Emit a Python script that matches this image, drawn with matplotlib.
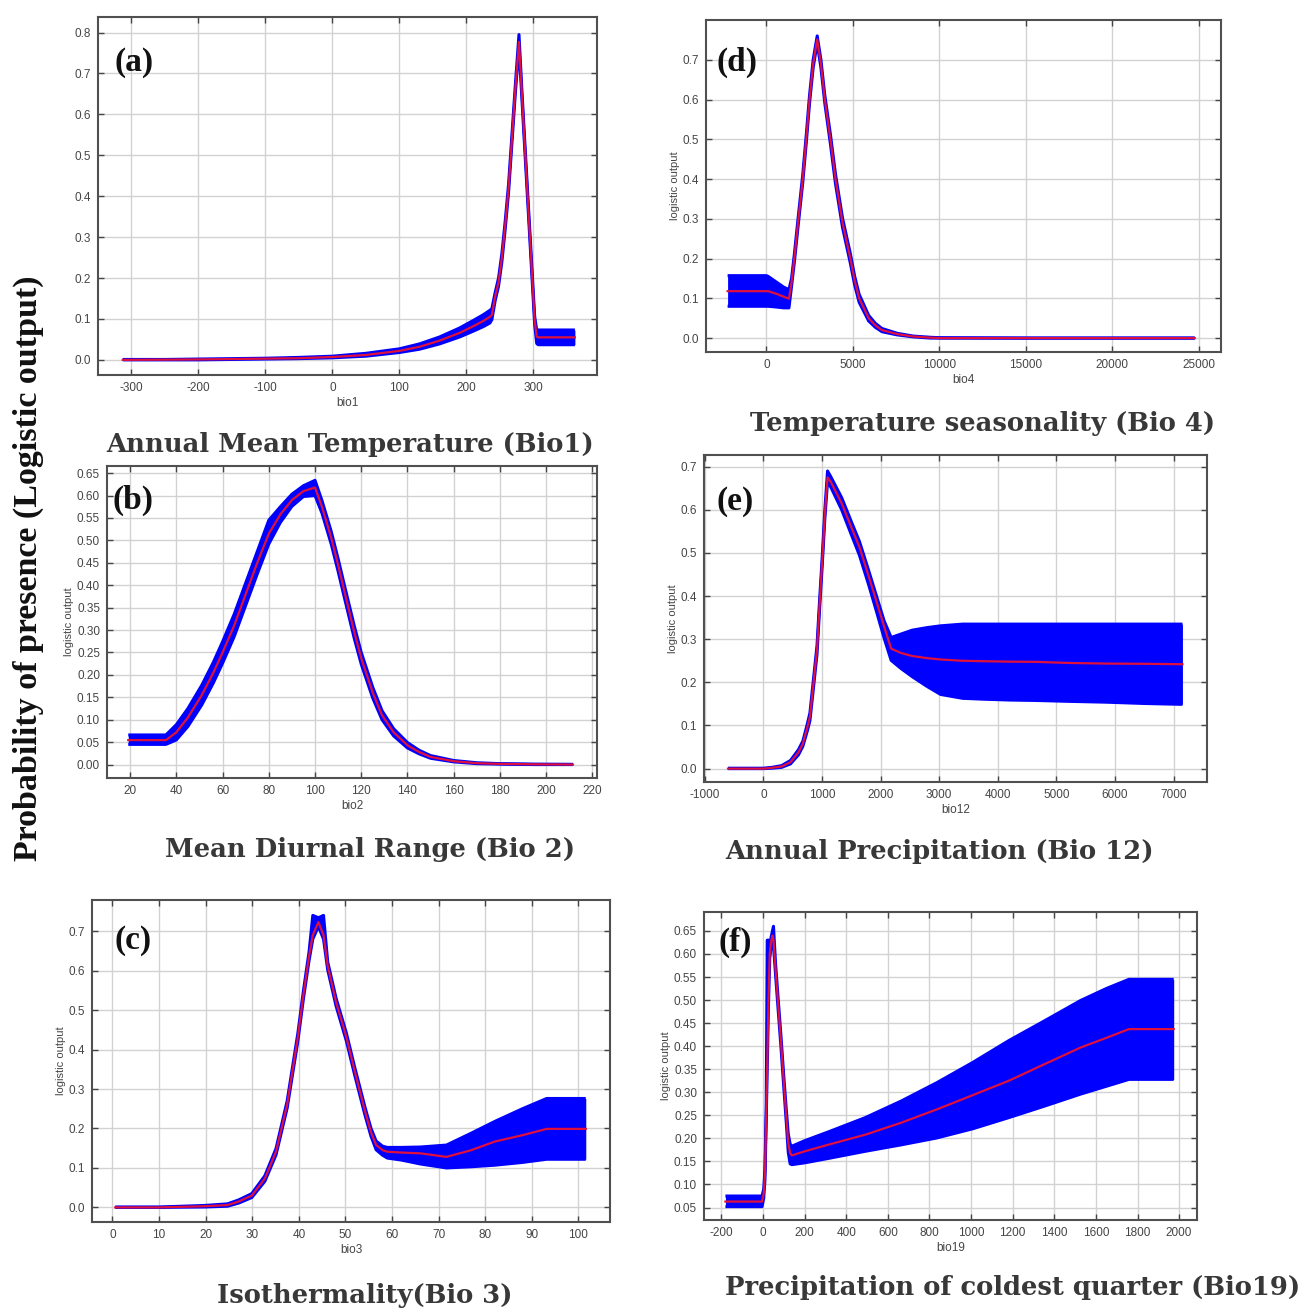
import matplotlib
matplotlib.use("Agg")
import matplotlib.pyplot as plt
import numpy as np

plt.rcParams["axes.unicode_minus"] = False

# ---------------- data ----------------
# (a) bio1
bio1_x = [-313, -250, -200, -150, -100, -50, 0, 50, 100, 130, 160, 190, 210, 225, 235, 238, 243, 248, 253, 258, 263, 268, 273, 278.5, 283, 288, 293, 298, 302, 305, 307, 330, 362]
bio1_mean = [0.0, 0.0005, 0.001, 0.002, 0.003, 0.004, 0.007, 0.012, 0.022, 0.032, 0.047, 0.066, 0.082, 0.095, 0.105, 0.11, 0.155, 0.19, 0.25, 0.33, 0.42, 0.54, 0.66, 0.777, 0.645, 0.50, 0.355, 0.21, 0.095, 0.057, 0.055, 0.055, 0.055]
bio1_low = [0.0, 0.0, 0.0, 0.001, 0.002, 0.003, 0.005, 0.009, 0.018, 0.026, 0.039, 0.056, 0.070, 0.081, 0.090, 0.098, 0.145, 0.18, 0.24, 0.32, 0.41, 0.53, 0.65, 0.765, 0.635, 0.49, 0.345, 0.20, 0.085, 0.040, 0.037, 0.037, 0.037]
bio1_up = [0.001, 0.001, 0.002, 0.003, 0.004, 0.006, 0.009, 0.016, 0.027, 0.039, 0.056, 0.078, 0.096, 0.110, 0.121, 0.125, 0.165, 0.20, 0.26, 0.34, 0.43, 0.55, 0.67, 0.795, 0.655, 0.51, 0.365, 0.22, 0.105, 0.073, 0.073, 0.073, 0.073]

# (d) bio4
bio4_x = [-2250, 0, 100, 600, 1000, 1300, 1450, 1610, 1850, 2096, 2300, 2490, 2700, 2935, 3150, 3376, 3700, 3994, 4400, 4854, 5100, 5362, 5913, 6300, 6686, 7568, 8500, 9500, 10000, 15000, 20000, 24780]
bio4_mean = [0.118, 0.118, 0.118, 0.111, 0.104, 0.099, 0.14, 0.20, 0.30, 0.40, 0.50, 0.60, 0.69, 0.751, 0.69, 0.60, 0.50, 0.40, 0.29, 0.20, 0.145, 0.10, 0.05, 0.032, 0.02, 0.01, 0.004, 0.001, 0.0, 0.0, 0.0, 0.0]
bio4_low = [0.080, 0.080, 0.080, 0.078, 0.076, 0.076, 0.13, 0.19, 0.29, 0.39, 0.49, 0.59, 0.68, 0.742, 0.68, 0.59, 0.488, 0.388, 0.278, 0.188, 0.134, 0.09, 0.043, 0.027, 0.016, 0.008, 0.003, 0.0, 0.0, 0.0, 0.0, 0.0]
bio4_up = [0.157, 0.157, 0.155, 0.140, 0.128, 0.122, 0.15, 0.21, 0.31, 0.41, 0.51, 0.61, 0.70, 0.760, 0.70, 0.61, 0.512, 0.412, 0.302, 0.212, 0.156, 0.11, 0.057, 0.037, 0.024, 0.012, 0.005, 0.002, 0.001, 0.0, 0.0, 0.0]

# (b) bio2
bio2_x = [19.2, 35.5, 40, 45, 51, 56, 60, 65, 70, 75, 80, 85, 90, 95, 100, 103, 107, 110, 113, 117, 120, 125, 129, 134, 140, 145, 150, 160, 170, 180, 195, 211.6]
bio2_mean = [0.0545, 0.0545, 0.072, 0.105, 0.155, 0.205, 0.25, 0.31, 0.38, 0.45, 0.515, 0.558, 0.59, 0.61, 0.618, 0.575, 0.506, 0.445, 0.38, 0.295, 0.237, 0.16, 0.11, 0.072, 0.043, 0.028, 0.017, 0.0075, 0.003, 0.0015, 0.0005, 0.0]
bio2_low = [0.045, 0.045, 0.055, 0.085, 0.133, 0.182, 0.226, 0.285, 0.355, 0.425, 0.492, 0.54, 0.576, 0.598, 0.600, 0.561, 0.492, 0.431, 0.366, 0.281, 0.224, 0.148, 0.100, 0.064, 0.037, 0.024, 0.014, 0.006, 0.002, 0.001, 0.0, 0.0]
bio2_up = [0.066, 0.066, 0.089, 0.125, 0.177, 0.228, 0.274, 0.335, 0.405, 0.475, 0.545, 0.575, 0.603, 0.622, 0.634, 0.589, 0.52, 0.459, 0.394, 0.309, 0.25, 0.172, 0.12, 0.080, 0.049, 0.032, 0.02, 0.009, 0.004, 0.002, 0.001, 0.0005]

# (e) bio12
bio12_x = [-602, 0, 150, 313, 464, 600, 675, 750, 795, 850, 916, 960, 1006, 1050, 1096, 1150, 1337, 1500, 1639, 1800, 1940, 2060, 2181, 2350, 2542, 2800, 3024, 3400, 3747, 4200, 4651, 5200, 5855, 6500, 7151]
bio12_mean = [0.0, 0.0, 0.002, 0.005, 0.015, 0.038, 0.058, 0.095, 0.12, 0.19, 0.275, 0.38, 0.483, 0.59, 0.675, 0.665, 0.615, 0.56, 0.514, 0.445, 0.383, 0.33, 0.278, 0.268, 0.261, 0.256, 0.253, 0.25, 0.249, 0.248, 0.2475, 0.245, 0.2435, 0.243, 0.242]
bio12_low = [0.0, 0.0, 0.001, 0.003, 0.011, 0.032, 0.052, 0.087, 0.111, 0.18, 0.265, 0.37, 0.473, 0.58, 0.665, 0.653, 0.60, 0.543, 0.495, 0.425, 0.36, 0.303, 0.251, 0.232, 0.213, 0.19, 0.172, 0.163, 0.161, 0.159, 0.158, 0.156, 0.154, 0.151, 0.149]
bio12_up = [0.001, 0.001, 0.003, 0.007, 0.019, 0.044, 0.064, 0.103, 0.129, 0.20, 0.285, 0.39, 0.493, 0.60, 0.69, 0.677, 0.628, 0.573, 0.527, 0.458, 0.396, 0.343, 0.304, 0.312, 0.321, 0.327, 0.331, 0.335, 0.335, 0.335, 0.335, 0.335, 0.335, 0.335, 0.335]

# (c) bio3
bio3_x = [0.6, 10, 19.9, 24.7, 27.1, 29.9, 32.7, 35.1, 37.5, 39.8, 41, 42.2, 43, 44.2, 45.3, 46.2, 48, 50.2, 52, 54.2, 55.5, 56.6, 58, 59, 62, 66.1, 71.7, 77, 82.1, 88, 93.2, 101.6]
bio3_mean = [0.0, 0.0, 0.003, 0.006, 0.015, 0.03, 0.073, 0.141, 0.261, 0.432, 0.54, 0.637, 0.69, 0.723, 0.69, 0.612, 0.52, 0.432, 0.345, 0.244, 0.19, 0.158, 0.145, 0.141, 0.139, 0.137, 0.128, 0.145, 0.167, 0.183, 0.199, 0.199]
bio3_low = [0.0, 0.0, 0.001, 0.003, 0.011, 0.025, 0.066, 0.133, 0.252, 0.422, 0.53, 0.626, 0.68, 0.712, 0.68, 0.602, 0.51, 0.422, 0.335, 0.234, 0.18, 0.146, 0.132, 0.125, 0.12, 0.11, 0.100, 0.103, 0.107, 0.114, 0.122, 0.122]
bio3_up = [0.001, 0.001, 0.005, 0.009, 0.019, 0.035, 0.08, 0.149, 0.27, 0.442, 0.55, 0.648, 0.74, 0.734, 0.74, 0.622, 0.53, 0.442, 0.355, 0.254, 0.20, 0.168, 0.155, 0.152, 0.152, 0.153, 0.158, 0.188, 0.218, 0.25, 0.276, 0.276]

# (f) bio19
bio19_x = [-181, -5, 3, 9, 15, 20, 26, 32, 38, 45, 50, 60, 70, 86, 100, 112, 121, 130, 138, 200, 319, 491, 664, 836, 1009, 1181, 1353, 1526, 1650, 1759, 1974]
bio19_mean = [0.063, 0.063, 0.08, 0.121, 0.25, 0.36, 0.50, 0.60, 0.625, 0.64, 0.63, 0.567, 0.506, 0.41, 0.32, 0.246, 0.19, 0.168, 0.163, 0.172, 0.187, 0.208, 0.234, 0.263, 0.294, 0.325, 0.361, 0.397, 0.418, 0.437, 0.437]
bio19_low = [0.052, 0.052, 0.07, 0.11, 0.24, 0.35, 0.49, 0.59, 0.615, 0.628, 0.618, 0.555, 0.494, 0.398, 0.308, 0.232, 0.17, 0.145, 0.143, 0.147, 0.157, 0.172, 0.186, 0.201, 0.221, 0.245, 0.27, 0.296, 0.313, 0.328, 0.328]
bio19_up = [0.075, 0.075, 0.09, 0.132, 0.26, 0.63, 0.63, 0.61, 0.635, 0.65, 0.66, 0.579, 0.518, 0.422, 0.332, 0.26, 0.21, 0.188, 0.183, 0.195, 0.215, 0.245, 0.281, 0.321, 0.365, 0.412, 0.455, 0.499, 0.525, 0.545, 0.545]

panel_letters = ["(a)", "(d)", "(b)", "(e)", "(c)", "(f)"]
x_names = ["bio1", "bio4", "bio2", "bio12", "bio3", "bio19"]
panel_titles = ["Annual Mean Temperature (Bio1)", "Temperature seasonality (Bio 4)",
                "Mean Diurnal Range (Bio 2)", "Annual Precipitation (Bio 12)",
                "Isothermality(Bio 3)", "Precipitation of coldest quarter (Bio19)"]
big_ylabel = "Probability of presence (Logistic output)"

# ---------------- figure ----------------
W, H = 1311, 1312
fig = plt.figure(figsize=(W / 100, H / 100), dpi=100)
fig.patch.set_facecolor("white")

def box(x0, y0, x1, y1):
    return [x0 / W, 1 - y1 / H, (x1 - x0) / W, (y1 - y0) / H]

BLUE = "#0000ff"
RED = "#e0103c"
TICKC = "#454545"
SANS = ["Liberation Sans", "DejaVu Sans"]

panels = [
    dict(rect=box(98, 17, 597, 375), x=bio1_x, m=bio1_mean, lo=bio1_low, up=bio1_up,
         xlim=(-350, 395), ylim=(-0.037, 0.838), xt=np.arange(-300, 301, 100), yt=np.arange(0, 0.81, 0.1), yfmt="{:.1f}", ylab=False),
    dict(rect=box(706, 20, 1221, 352), x=bio4_x, m=bio4_mean, lo=bio4_low, up=bio4_up,
         xlim=(-3500, 26300), ylim=(-0.035, 0.80), xt=np.arange(0, 25001, 5000), yt=np.arange(0, 0.71, 0.1), yfmt="{:.1f}", ylab=True),
    dict(rect=box(107, 466, 597, 778), x=bio2_x, m=bio2_mean, lo=bio2_low, up=bio2_up,
         xlim=(10, 222), ylim=(-0.030, 0.666), xt=np.arange(20, 221, 20), yt=np.arange(0, 0.651, 0.05), yfmt="{:.2f}", ylab=True),
    dict(rect=box(704, 455, 1207, 782), x=bio12_x, m=bio12_mean, lo=bio12_low, up=bio12_up,
         xlim=(-1012, 7570), ylim=(-0.031, 0.727), xt=np.arange(-1000, 7001, 1000), yt=np.arange(0, 0.71, 0.1), yfmt="{:.1f}", ylab=True),
    dict(rect=box(92, 900, 610, 1222), x=bio3_x, m=bio3_mean, lo=bio3_low, up=bio3_up,
         xlim=(-4.4, 106.8), ylim=(-0.037, 0.779), xt=np.arange(0, 101, 10), yt=np.arange(0, 0.71, 0.1), yfmt="{:.1f}", ylab=True),
    dict(rect=box(704, 912, 1197, 1220), x=bio19_x, m=bio19_mean, lo=bio19_low, up=bio19_up,
         xlim=(-284, 2086), ylim=(0.023, 0.691), xt=np.arange(-200, 2001, 200), yt=np.arange(0.05, 0.651, 0.05), yfmt="{:.2f}", ylab=True),
]

letter_pos = [(114, 63), (716, 62), (112, 500), (717, 502), (114, 941), (719, 942)]
title_pos = [(350, 445), (983, 423), (370, 850), (940, 851), (365, 1295), (1013, 1288)]

for i, p in enumerate(panels):
    ax = fig.add_axes(p["rect"])
    ax.set_facecolor("white")
    ax.grid(True, color="#d2d2d2", lw=1.0, zorder=0)
    ax.fill_between(p["x"], p["lo"], p["up"], color=BLUE, lw=0, zorder=2)
    ax.plot(p["x"], p["lo"], color=BLUE, lw=2.2, zorder=2, solid_capstyle="butt")
    ax.plot(p["x"], p["up"], color=BLUE, lw=2.2, zorder=2, solid_capstyle="butt")
    ax.plot(p["x"], p["m"], color=RED, lw=1.6, zorder=3)
    ax.set_xlim(*p["xlim"])
    ax.set_ylim(*p["ylim"])
    ax.set_xticks(p["xt"])
    ax.set_xticklabels([str(int(v)) for v in p["xt"]], family=SANS)
    ax.set_yticks(p["yt"])
    ax.set_yticklabels([p["yfmt"].format(v) for v in p["yt"]], family=SANS)
    ax.tick_params(direction="in", length=4, width=1.0, colors=TICKC, labelsize=8.5,
                   top=True, right=True, labelcolor=TICKC, pad=5)
    for sp in ax.spines.values():
        sp.set_color("#505050")
        sp.set_linewidth(1.5)
    ax.set_xlabel(x_names[i], fontsize=8.5, color=TICKC, labelpad=2, family=SANS)
    if p["ylab"]:
        ax.set_ylabel("logistic output", fontsize=8, color=TICKC, labelpad=2, family=SANS)
    lx, ly = letter_pos[i]
    fig.text(lx / W, 1 - ly / H, panel_letters[i], fontsize=24, fontweight="bold",
             family="Liberation Serif", color="#111111", ha="left", va="center")
    tx, ty = title_pos[i]
    fig.text(tx / W, 1 - ty / H, panel_titles[i], fontsize=18.6, fontweight="bold",
             family="DejaVu Serif", color="#383838", ha="center", va="center")

fig.text(28 / W, 1 - 568 / H, big_ylabel, rotation=90, fontsize=24.5, fontweight="bold",
         family="Liberation Serif", color="#111111", ha="center", va="center")

fig.savefig("out.png", dpi=100, facecolor="white")
